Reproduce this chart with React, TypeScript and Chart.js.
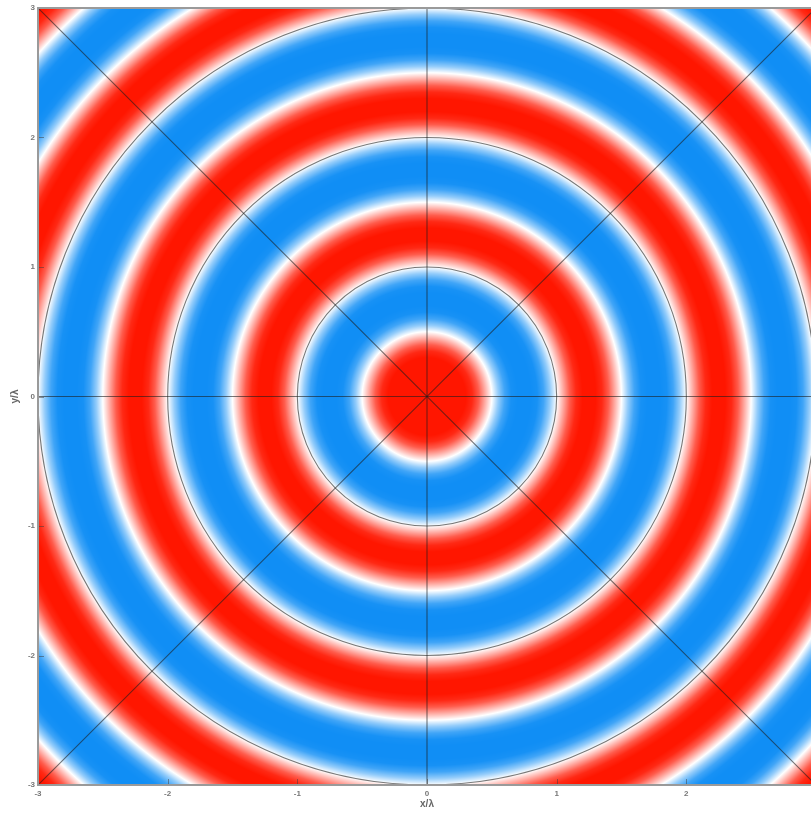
import { useEffect, useRef } from "react";
import { Chart, registerables } from "chart.js";
Chart.register(...registerables);

// ---- data ----
const xTicks = [-3, -2, -1, 0, 1, 2, 3];
const yTicks = [-3, -2, -1, 0, 1, 2, 3];
const circleRadii = [1, 2, 3];
const rayAnglesDeg = [0, 45, 90, 135];
// radial field profile (+1 = red, -1 = blue), sampled every 0.05 λ from r = 0 to 4.30 λ
const profileStep = 0.05;
const fieldProfile = [
  1, 1, 1, 1, 1, 1, 1, 0.92, 0.7, 0.35,
  0, -0.45, -0.8, -0.97, -1, -1, -1, -0.97, -0.8, -0.45,
  0, 0.35, 0.7, 0.92, 1, 1, 1, 0.92, 0.7, 0.35,
  0, -0.45, -0.8, -0.97, -1, -1, -1, -0.97, -0.8, -0.45,
  0, 0.35, 0.7, 0.92, 1, 1, 1, 0.92, 0.7, 0.35,
  0, -0.45, -0.8, -0.97, -1, -1, -1, -0.97, -0.8, -0.45,
  0, 0.35, 0.7, 0.92, 1, 1, 1, 0.92, 0.7, 0.35,
  0, -0.45, -0.8, -0.97, -1, -1, -1, -0.97, -0.8, -0.45,
  0, 0.35, 0.7, 0.92, 1, 1, 1,
];

const RED = [255, 22, 0];
const BLUE = [16, 142, 245];
const FONT = '"Liberation Sans", Arial, sans-serif';

function colorFor(v: number): [number, number, number] {
  const c = v >= 0 ? RED : BLUE;
  const t = Math.min(1, Math.abs(v));
  return [
    Math.round(255 + (c[0] - 255) * t),
    Math.round(255 + (c[1] - 255) * t),
    Math.round(255 + (c[2] - 255) * t),
  ];
}

const fieldPlugin = {
  id: "field",
  beforeDatasetsDraw(chart: any) {
    const { ctx, chartArea: a, scales } = chart;
    const xs = scales.x, ys = scales.y;
    const L = Math.round(a.left), T = Math.round(a.top);
    const w = Math.round(a.right) - L, h = Math.round(a.bottom) - T;
    const img = ctx.createImageData(w, h);
    const n = fieldProfile.length;
    const xv = new Float64Array(w);
    for (let i = 0; i < w; i++) xv[i] = xs.getValueForPixel(L + i + 0.5);
    for (let j = 0; j < h; j++) {
      const yv = ys.getValueForPixel(T + j + 0.5);
      for (let i = 0; i < w; i++) {
        const r = Math.hypot(xv[i], yv);
        const f = r / profileStep;
        const k = Math.floor(f);
        const t = f - k;
        const v0 = fieldProfile[Math.min(k, n - 1)];
        const v1 = fieldProfile[Math.min(k + 1, n - 1)];
        const c = colorFor(v0 + (v1 - v0) * t);
        const p = (j * w + i) * 4;
        img.data[p] = c[0];
        img.data[p + 1] = c[1];
        img.data[p + 2] = c[2];
        img.data[p + 3] = 255;
      }
    }
    ctx.putImageData(img, L, T);

    ctx.save();
    ctx.beginPath();
    ctx.rect(a.left, a.top, a.right - a.left, a.bottom - a.top);
    ctx.clip();
    ctx.strokeStyle = "rgba(30,30,30,0.6)";
    ctx.lineWidth = 1.1;
    const cx = xs.getPixelForValue(0), cy = ys.getPixelForValue(0);
    for (const r of circleRadii) {
      const rx = xs.getPixelForValue(r) - cx;
      const ry = cy - ys.getPixelForValue(r);
      ctx.beginPath();
      ctx.ellipse(cx, cy, rx, ry, 0, 0, Math.PI * 2);
      ctx.stroke();
    }
    for (const deg of rayAnglesDeg) {
      const th = (deg * Math.PI) / 180;
      const dx = 10 * Math.cos(th), dy = 10 * Math.sin(th);
      ctx.beginPath();
      ctx.moveTo(xs.getPixelForValue(-dx), ys.getPixelForValue(-dy));
      ctx.lineTo(xs.getPixelForValue(dx), ys.getPixelForValue(dy));
      ctx.stroke();
    }
    ctx.restore();
  },
  afterDraw(chart: any) {
    const { ctx, chartArea: a, scales } = chart;
    ctx.save();
    ctx.strokeStyle = "rgba(60,60,60,0.5)";
    ctx.lineWidth = 1;
    for (const v of xTicks) {
      const px = Math.round(scales.x.getPixelForValue(v)) + 0.5;
      ctx.beginPath();
      ctx.moveTo(px, a.bottom);
      ctx.lineTo(px, a.bottom - 6);
      ctx.stroke();
    }
    for (const v of yTicks) {
      const py = Math.round(scales.y.getPixelForValue(v)) + 0.5;
      ctx.beginPath();
      ctx.moveTo(a.left, py);
      ctx.lineTo(a.left + 6, py);
      ctx.stroke();
    }
    ctx.strokeStyle = "#9a9a9a";
    ctx.lineWidth = 2;
    ctx.strokeRect(a.left, a.top, a.right - a.left, a.bottom - a.top);
    ctx.restore();
  },
};

export default function App() {
  const ref = useRef<HTMLCanvasElement>(null);
  useEffect(() => {
    if (!ref.current) return;
    const chart = new Chart(ref.current, {
      type: "scatter",
      data: { datasets: [] },
      plugins: [fieldPlugin],
      options: {
        animation: false,
        responsive: false,
        devicePixelRatio: 1,
        layout: { padding: { top: 8, right: 14, bottom: 0, left: 0 } },
        plugins: { legend: { display: false }, tooltip: { enabled: false } },
        scales: {
          x: {
            type: "linear",
            min: -3,
            max: 3,
            afterBuildTicks: (s: any) => {
              s.ticks = xTicks.map((v) => ({ value: v }));
            },
            afterFit: (s: any) => {
              s.height = 32;
            },
            ticks: {
              autoSkip: false,
              maxRotation: 0,
              padding: 4,
              color: "#777",
              font: { family: FONT, size: 8, weight: "bold" },
              callback: (v: any) => String(v),
            },
            grid: { display: false, drawTicks: false },
            border: { display: false },
            title: {
              display: true,
              text: "x/λ",
              color: "#666",
              font: { family: FONT, size: 10, weight: "bold" },
              padding: { top: 0, bottom: 7 },
            },
          },
          y: {
            type: "linear",
            min: -3,
            max: 3,
            afterBuildTicks: (s: any) => {
              s.ticks = yTicks.map((v) => ({ value: v }));
            },
            afterFit: (s: any) => {
              s.width = 38;
            },
            ticks: {
              autoSkip: false,
              padding: 3,
              color: "#777",
              font: { family: FONT, size: 8, weight: "bold" },
              callback: (v: any) => String(v),
            },
            grid: { display: false, drawTicks: false },
            border: { display: false },
            title: {
              display: true,
              text: "y/λ",
              color: "#666",
              font: { family: FONT, size: 10, weight: "bold" },
              padding: { top: 9, bottom: 0 },
            },
          },
        },
      } as any,
    });
    return () => chart.destroy();
  }, []);
  return (
    <div
      style={{
        position: "fixed",
        left: 0,
        top: 0,
        width: 811,
        height: 817,
        overflow: "hidden",
        background: "#fff",
      }}
    >
      <canvas ref={ref} width={830} height={817} style={{ display: "block" }} />
    </div>
  );
}
